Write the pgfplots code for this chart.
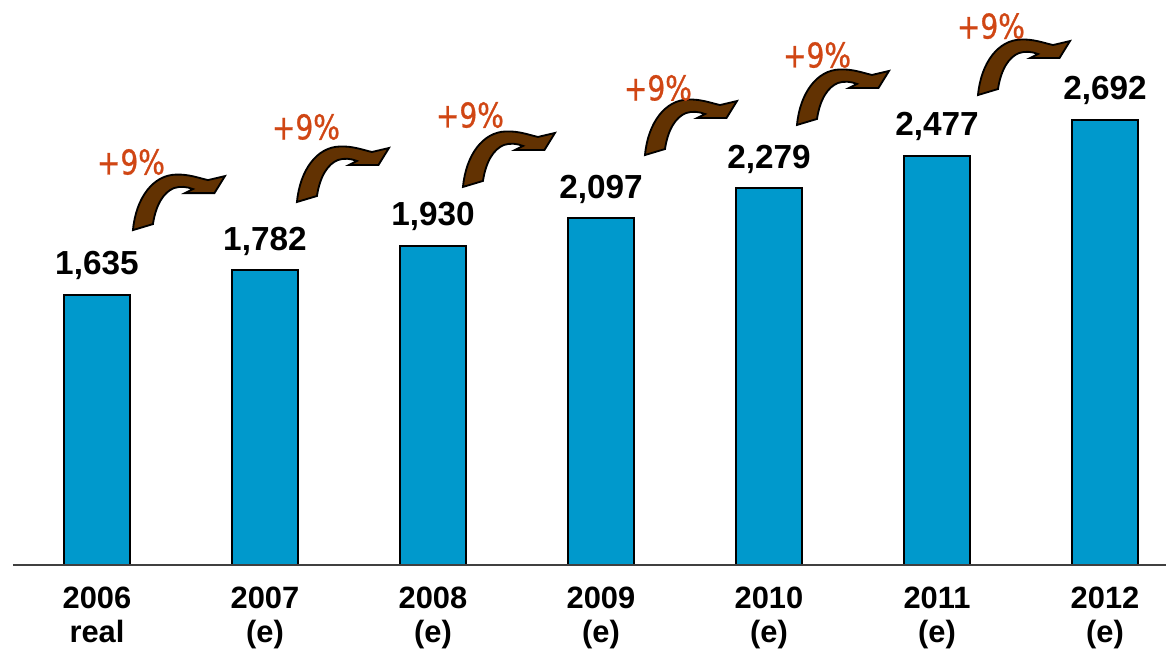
\documentclass[border=0pt]{standalone}
\usepackage{fontspec}
\setmainfont{Liberation Sans}
\newfontfamily\pctfont[FakeStretch=0.82, FakeBold=0.8]{DejaVu Sans}
\usepackage{pgfplots}
\pgfplotsset{compat=1.18}
\definecolor{barblue}{RGB}{0,153,204}
\definecolor{arrowbrown}{RGB}{98,50,2}
\definecolor{pctred}{RGB}{208,70,20}
\newcommand{\curvedarrow}[2]{%
  \filldraw[fill=arrowbrown, draw=black, line width=1.1pt, line join=miter,
    shift={(axis cs:#1,#2)}, x=0.6pt, y=0.6pt]
    (0,0) .. controls (3,32) and (20,55) .. (43,55.5)
    .. controls (56,56) and (66,52) .. (75,50)
    -- (92,54) -- (81.5,37) -- (52,37) -- (60,41)
    .. controls (54,43.5) and (47,44) .. (41,42)
    .. controls (31,38) and (23,26) .. (20,6) -- cycle;}
\newcommand{\pct}[2]{\node[text=pctred, font=\pctfont\fontsize{20.5}{24}\selectfont, inner sep=0pt] at (axis cs:#1,#2) {+9\%};}
\begin{document}
\begin{tikzpicture}
\begin{axis}[
  scale only axis,
  width=700.2pt, height=339pt,
  xmin=-0.577, xmax=6.369,
  ymin=0, ymax=3418,
  clip=false,
  /pgf/number format/assume math mode=true,
  axis line style={draw=none},
  ytick=\empty,
  xtick={0,1,2,3,4,5,6},
  xticklabels={{2006\\real},{2007\\(e)},{2008\\(e)},{2009\\(e)},{2010\\(e)},{2011\\(e)},{2012\\(e)}},
  major tick length=0pt,
  xticklabel style={align=center, anchor=north, inner sep=0pt, yshift=-13.2pt,
    font=\bfseries\fontsize{18.5}{20.4}\selectfont},
  ybar, bar width=39.6pt,
  nodes near coords={\pgfmathprintnumber[fixed, 1000 sep={,}, assume math mode=true]{\pgfplotspointmeta}},
  nodes near coords style={anchor=base, yshift=12pt, inner sep=0pt,
    font=\bfseries\fontsize{20}{24}\selectfont, text=black},
  point meta=explicit,
]
\addplot[fill=barblue, draw=black, line width=1.2pt] coordinates {
  (0,1635) [1635]
  (1,1782) [1782]
  (2,1930) [1930]
  (3,2097) [2097]
  (4,2279) [2279]
  (5,2477) [2477]
  (6,2692) [2692]
};
\draw[black!75, line width=0.7pt] (axis cs:-0.5,0) -- (axis cs:6.363,0);
\curvedarrow{0.2143}{2026}
\curvedarrow{1.1905}{2196}
\curvedarrow{2.1786}{2287}
\curvedarrow{3.2619}{2480}
\curvedarrow{4.1667}{2662}
\curvedarrow{5.244}{2843}
\pct{0.2024}{2438}
\pct{1.244}{2650}
\pct{2.220}{2722}
\pct{3.339}{2886}
\pct{4.286}{3085}
\pct{5.321}{3260}
\end{axis}
\pgfresetboundingbox
\path[use as bounding box] (0,-51.6pt) rectangle (700.2pt,339pt);
\end{tikzpicture}
\end{document}
